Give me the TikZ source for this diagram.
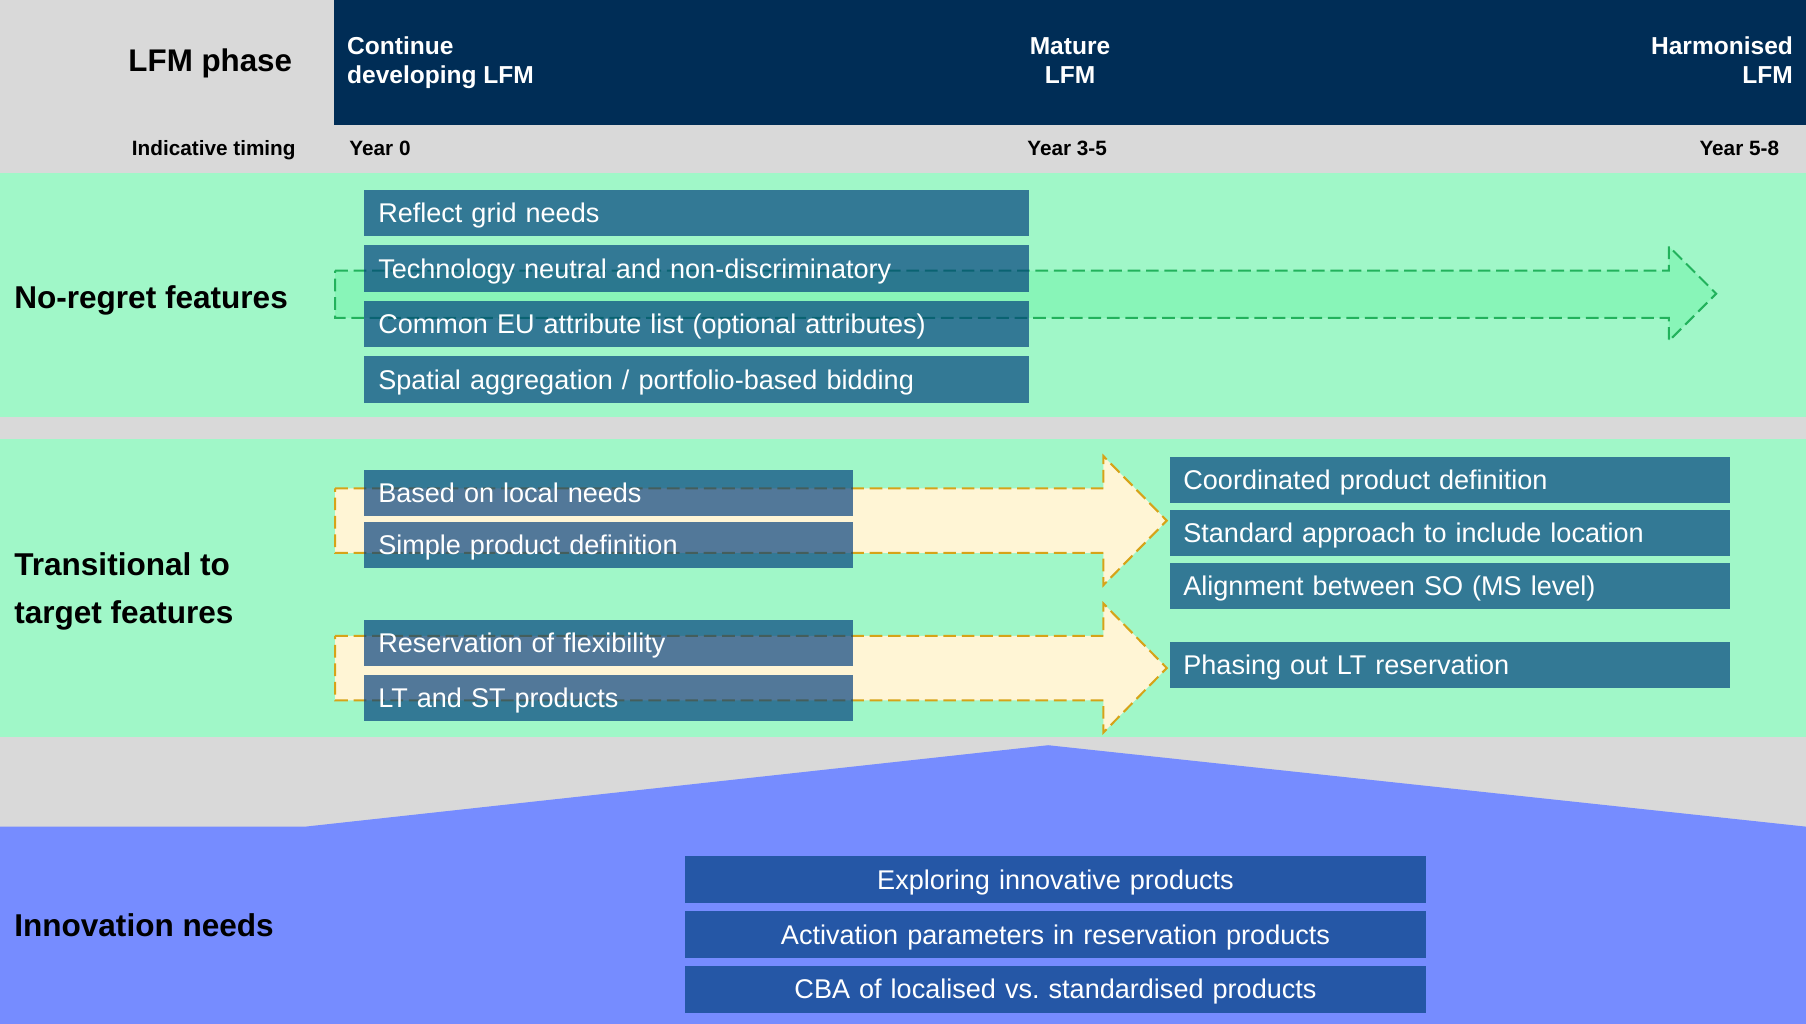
\documentclass[tikz,border=0pt]{standalone}
\usepackage{fontspec}
\setmainfont{Liberation Sans}
\newfontfamily\boxfont{Liberation Sans}[WordSpace=1.3]
\usepackage{tikz}
\frenchspacing

\definecolor{greyback}{RGB}{217,217,217}
\definecolor{navyhead}{RGB}{0,45,86}
\definecolor{mint}{RGB}{160,247,200}
\definecolor{arrowgreen}{RGB}{136,245,184}
\definecolor{dashgreen}{RGB}{34,178,92}
\definecolor{cream}{RGB}{255,245,213}
\definecolor{dashgold}{RGB}{214,163,24}
\definecolor{periwinkle}{RGB}{118,140,255}
\definecolor{itemblue}{RGB}{0,62,125}

\begin{document}
\begin{tikzpicture}[x=0.5pt,y=-0.5pt,
    item/.style={fill=itemblue, fill opacity=0.68, text opacity=1, text=white,
        anchor=north west, minimum height=20pt, inner xsep=6pt, inner ysep=0pt,
        text height=8.4pt, text depth=0pt, align=left,
        font=\boxfont\fontsize{11.75}{14}\selectfont},
    bigtag/.style={anchor=base west, inner sep=0pt, align=left, font=\bfseries\fontsize{13.7}{20.5}\selectfont},
    phasetag/.style={text=white, inner sep=0pt, font=\bfseries\fontsize{10.65}{12.6}\selectfont},
    timetag/.style={inner sep=0pt, font=\bfseries\fontsize{9}{11}\selectfont},
    dashline/.style={line width=0.9pt, dash pattern=on 5.5pt off 2.5pt},
    greenarrow/.style={dashline, fill=arrowgreen, draw=dashgreen},
    yellowarrow/.style={dashline, fill=cream, draw=dashgold}]

% background and bands
\fill[greyback] (0,0) rectangle (1568,889);
\fill[navyhead] (290,0) rectangle (1568,108.5);
\fill[mint] (0,150.5) rectangle (1568,362);
\fill[mint] (0,381.4) rectangle (1568,640);
\fill[periwinkle] (0,889) -- (0,717.7) -- (265,717.7) -- (910,647) -- (1568,717.7) -- (1568,889) -- cycle;

% header
\node[anchor=base east, inner sep=0pt, font=\bfseries\fontsize{13.6}{16}\selectfont] (phase) at (254,62.2) {LFM phase};
\node[phasetag, anchor=base west, align=left] (start) at (301,72.3) {Continue\\developing LFM};
\node[phasetag, anchor=base, align=center] (mature) at (929,72.3) {Mature\\LFM};
\node[phasetag, anchor=base east, align=right] (harmon) at (1557,72.3) {Harmonised\\LFM};

\node[timetag, anchor=base east] (timing) at (257,134.6) {Indicative timing};
\node[timetag, anchor=base west] (year0) at (303,134.6) {Year 0};
\node[timetag, anchor=base] (year3) at (926.5,134.6) {Year 3-5};
\node[timetag, anchor=base east] (year5) at (1545,134.6) {Year 5-8};

% row labels
\node[bigtag] (regret) at (12,268) {No-regret features};
\node[bigtag] (transit) at (12,541) {Transitional to\\target features};
\node[bigtag] (innov) at (12,813) {Innovation needs};

% block arrows
\draw[greenarrow] (291,235) -- (1449,235) -- (1449,214) -- (1490,255) -- (1449,296) -- (1449,276) -- (291,276) -- cycle;
\foreach \c in {452,580}
    \draw[yellowarrow] (291,\c-28) -- (958,\c-28) -- (958,\c-56) -- (1013,\c) -- (958,\c+56) -- (958,\c+28) -- (291,\c+28) -- cycle;

% feature boxes
\foreach \txt [count=\i] in {Reflect grid needs, Technology neutral and non-discriminatory, Common EU attribute list (optional attributes), Spatial aggregation / portfolio-based bidding}
    \node[item, text width=276.5pt] (nr\i) at (316,{164.5+48.2*(\i-1)}) {\txt};

\foreach \top/\txt [count=\i] in {407.5/Based on local needs, 452.5/Simple product definition, 537.5/Reservation of flexibility, 585.5/LT and ST products}
    \node[item, text width=200pt] (tr\i) at (316,\top) {\txt};

\foreach \top/\txt [count=\i] in {396/Coordinated product definition, 442/Standard approach to include location, 488/Alignment between SO (MS level), 557/Phasing out LT reservation}
    \node[item, text width=231.5pt] (tg\i) at (1015,\top) {\txt};

\foreach \top/\txt [count=\i] in {743/Exploring innovative products, 790.5/Activation parameters in reservation products, 838/CBA of localised vs. standardised products}
    \node[item, text width=310pt, align=center, minimum height=20.5pt] (in\i) at (594,\top) {\txt};

\end{tikzpicture}
\end{document}
